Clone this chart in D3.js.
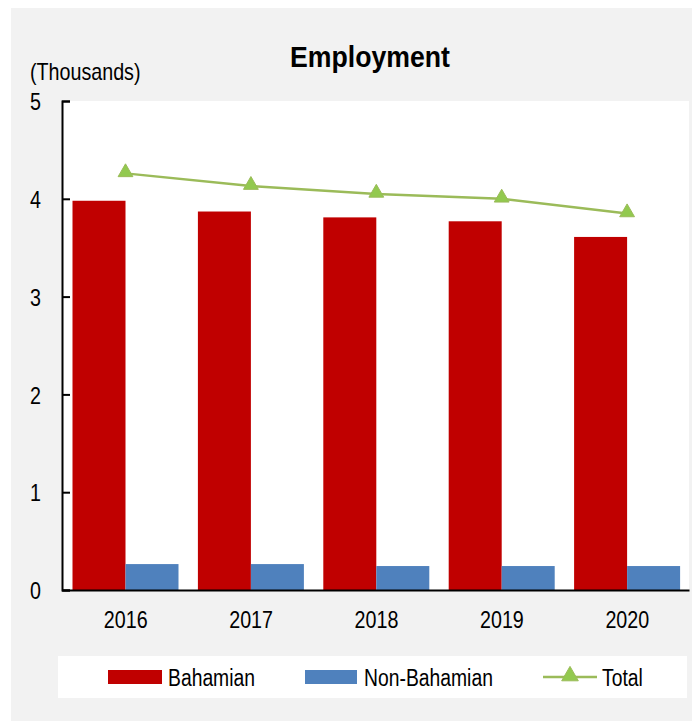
<!DOCTYPE html>
<html>
<head>
<meta charset="utf-8">
<script src="https://cdn.jsdelivr.net/npm/d3@7"></script>
<style>
  body { margin: 0; background: #fff; }
  text { font-family: "Liberation Sans", Arial, sans-serif; }
</style>
</head>
<body>
<div id="chart"></div>
<script>
// values (thousands)
var years = ["2016","2017","2018","2019","2020"];
var bahamian = [3.98, 3.87, 3.81, 3.77, 3.61];
var nonBahamian = [0.265, 0.265, 0.245, 0.245, 0.245];
var total = [4.26, 4.13, 4.05, 4.00, 3.85];
var yTicks = [0,1,2,3,4,5];

var W = 692, H = 721;
var margin = {top: 101, right: 3, bottom: 131, left: 62};
var width = W - margin.left - margin.right,
    height = H - margin.top - margin.bottom;

// no Arial Narrow here, so squeeze the regular face
function narrow(sel, k){
  sel.each(function(){
    var len = this.getComputedTextLength();
    d3.select(this).attr("textLength", len * (k || 0.82)).attr("lengthAdjust", "spacingAndGlyphs");
  });
}

var svg = d3.select("#chart").append("svg")
  .attr("width", W).attr("height", H);

// grey panel
svg.append("rect")
  .attr("x", 11).attr("y", 8).attr("width", W - 11).attr("height", H - 8)
  .attr("fill", "#f2f2f2");

var g = svg.append("g")
  .attr("transform", "translate(" + margin.left + "," + margin.top + ")");

g.append("rect").attr("width", width).attr("height", height).attr("fill", "#fff");

var x = d3.scaleBand().domain(years).range([0, width]);
var y = d3.scaleLinear().domain([0, 5]).range([height, 0]);

var barW = 53;
var groupOff = 10.5;

g.selectAll(".bah").data(years).enter().append("rect")
  .attr("class", "bah")
  .attr("x", function(d){ return x(d) + groupOff; })
  .attr("y", function(d, i){ return y(bahamian[i]); })
  .attr("width", barW)
  .attr("height", function(d, i){ return height - y(bahamian[i]); })
  .attr("fill", "#c00000");

g.selectAll(".nonbah").data(years).enter().append("rect")
  .attr("class", "nonbah")
  .attr("x", function(d){ return x(d) + groupOff + barW; })
  .attr("y", function(d, i){ return y(nonBahamian[i]); })
  .attr("width", barW)
  .attr("height", function(d, i){ return height - y(nonBahamian[i]); })
  .attr("fill", "#4f81bd");

// total line
var lineX = function(i){ return x(years[i]) + groupOff + barW; };
g.append("path")
  .attr("fill", "none")
  .attr("stroke", "#9bbb59")
  .attr("stroke-width", 2.5)
  .attr("d", d3.line()
    .x(function(d, i){ return lineX(i); })
    .y(function(d){ return y(d); })(total));

var tri = d3.symbol().type(d3.symbolTriangle).size(95);
g.selectAll(".tri").data(total).enter().append("path")
  .attr("class", "tri")
  .attr("d", tri)
  .attr("transform", function(d, i){ return "translate(" + lineX(i) + "," + (y(d) - 1) + ")"; })
  .attr("fill", "#92c94f")
  .attr("stroke", "#9bbb59");

// axes
var yAxis = g.append("g")
  .call(d3.axisLeft(y).tickValues(yTicks).tickSize(-8).tickPadding(21).tickFormat(d3.format("d")));
yAxis.select(".domain").attr("stroke", "#000").attr("stroke-width", 2);
yAxis.selectAll(".tick line").attr("stroke", "#000").attr("stroke-width", 2);
yAxis.selectAll("text").attr("font-size", 24).attr("fill", "#000").attr("dy", "0.36em").call(narrow);

var xAxis = g.append("g")
  .attr("transform", "translate(0," + height + ")")
  .call(d3.axisBottom(x).tickSize(0).tickPadding(21));
xAxis.select(".domain").attr("stroke", "#000").attr("stroke-width", 2);
xAxis.selectAll("text").attr("font-size", 24).attr("fill", "#000")
  .attr("x", 1).call(narrow);

// title and unit
svg.append("text")
  .attr("x", 370).attr("y", 67)
  .attr("text-anchor", "middle")
  .attr("font-size", 29).attr("font-weight", "bold")
  .attr("textLength", 160).attr("lengthAdjust", "spacingAndGlyphs")
  .text("Employment");

svg.append("text")
  .attr("x", 30).attr("y", 80)
  .attr("font-size", 24)
  .text("(Thousands)").call(narrow);

// legend
var lg = svg.append("g");
lg.append("rect").attr("x", 58).attr("y", 656).attr("width", 629).attr("height", 42).attr("fill", "#fff");

lg.append("rect").attr("x", 108).attr("y", 670).attr("width", 54).attr("height", 14).attr("fill", "#c00000");
lg.append("text").attr("x", 168).attr("y", 686).attr("font-size", 23).text("Bahamian").call(narrow, 0.84);

lg.append("rect").attr("x", 305).attr("y", 670).attr("width", 52).attr("height", 14).attr("fill", "#4f81bd");
lg.append("text").attr("x", 364).attr("y", 686).attr("font-size", 23).text("Non-Bahamian").call(narrow, 0.84);

lg.append("line").attr("x1", 543).attr("x2", 597).attr("y1", 677).attr("y2", 677)
  .attr("stroke", "#9bbb59").attr("stroke-width", 2.5);
lg.append("path").attr("d", d3.symbol().type(d3.symbolTriangle).size(120)).attr("transform", "translate(570,676)")
  .attr("fill", "#92c94f").attr("stroke", "#9bbb59");
lg.append("text").attr("x", 602).attr("y", 686).attr("font-size", 23).text("Total").call(narrow, 0.84);
</script>
</body>
</html>
